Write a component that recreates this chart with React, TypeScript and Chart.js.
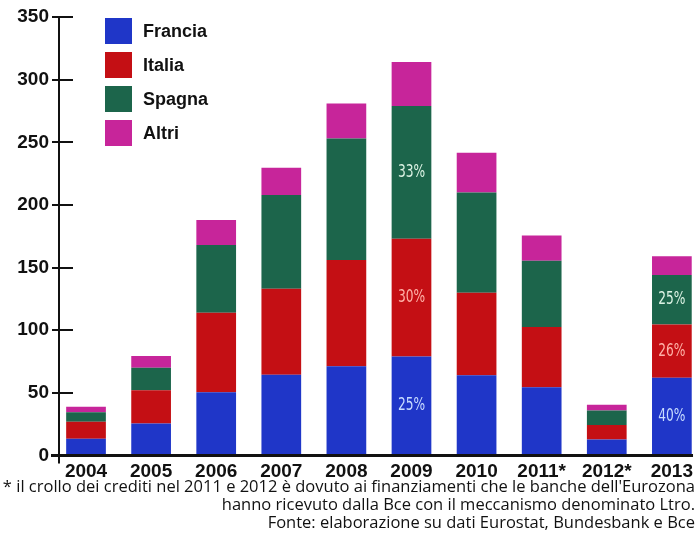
import React, { useEffect, useRef } from 'react';
import { Chart, registerables } from 'chart.js';

Chart.register(...registerables);

const years = ['2004', '2005', '2006', '2007', '2008', '2009', '2010', '2011*', '2012*', '2013'];
const francia = [13.3, 25.5, 50.5, 64.4, 71.3, 79, 64, 54.5, 12.8, 62];
const italia = [13.7, 26.5, 63.5, 68.6, 84.7, 94, 66, 48, 11.5, 42.5];
const spagna = [7.6, 18, 54, 75, 97, 106, 80, 53, 11.7, 39.5];
const altri = [4.4, 9.5, 20, 21.6, 28, 35, 31.6, 20, 4.5, 15];

const franciaPct = ['', '', '', '', '', '25%', '', '', '', '40%'];
const italiaPct = ['', '', '', '', '', '30%', '', '', '', '26%'];
const spagnaPct = ['', '', '', '', '', '33%', '', '', '', '25%'];
const altriPct = ['', '', '', '', '', '', '', '', '', ''];

const seriesNames = ['Francia', 'Italia', 'Spagna', 'Altri'];
const seriesColors = ['#1f36c8', '#c40f14', '#1c654b', '#c7259a'];
const pctColors = ['#c8dcff', '#ffb2a8', '#dcf3e4', '#ffffff'];

const yTicks = [0, 50, 100, 150, 200, 250, 300, 350];

const footerLines = [
  "* il crollo dei crediti nel 2011 e 2012 è dovuto ai finanziamenti che le banche dell'Eurozona",
  'hanno ricevuto dalla Bce con il meccanismo denominato Ltro.',
  'Fonte: elaborazione su dati Eurostat, Bundesbank e Bce',
];

const BOLD = '"Liberation Sans", Arial, sans-serif';
const THIN = '"DejaVu Sans Condensed", "DejaVu Sans", sans-serif';

const extrasPlugin = {
  id: 'extras',
  afterDatasetsDraw(chart: any) {
    const ctx = chart.ctx;
    const yScale = chart.scales.y;
    const area = chart.chartArea;
    ctx.save();
    ctx.strokeStyle = '#111';
    ctx.lineWidth = 2;
    yTicks.forEach((v) => {
      const y = Math.round(yScale.getPixelForValue(v));
      ctx.beginPath();
      ctx.moveTo(area.left, y);
      ctx.lineTo(area.left + 14, y);
      ctx.stroke();
    });
    ctx.beginPath();
    ctx.moveTo(area.left, area.bottom);
    ctx.lineTo(area.left, area.bottom + 8);
    ctx.stroke();
    ctx.lineWidth = 3;
    ctx.beginPath();
    ctx.moveTo(area.left - 8, area.bottom);
    ctx.lineTo(area.right, area.bottom);
    ctx.stroke();
    ctx.restore();

    const pcts = [franciaPct, italiaPct, spagnaPct, altriPct];
    chart.data.datasets.forEach((ds: any, di: number) => {
      const meta = chart.getDatasetMeta(di);
      meta.data.forEach((bar: any, i: number) => {
        const t = pcts[di][i];
        if (!t) return;
        ctx.save();
        ctx.font = '17px ' + THIN;
        ctx.textAlign = 'center';
        ctx.textBaseline = 'middle';
        ctx.fillStyle = pctColors[di];
        ctx.translate(bar.x, (bar.y + bar.base) / 2);
        ctx.scale(0.8, 1);
        ctx.fillText(t, 0, 0);
        ctx.restore();
      });
    });

    chart.data.datasets.forEach((ds: any, di: number) => {
      const top = 18 + di * 34;
      ctx.save();
      ctx.fillStyle = ds.backgroundColor;
      ctx.fillRect(105, top, 27, 26);
      ctx.font = 'bold 18px ' + BOLD;
      ctx.textAlign = 'left';
      ctx.textBaseline = 'middle';
      ctx.fillStyle = '#111';
      ctx.fillText(ds.label, 143, top + 14);
      ctx.restore();
    });
  },
};

export default function App() {
  const ref = useRef<HTMLCanvasElement>(null);

  useEffect(() => {
    const series = [francia, italia, spagna, altri];
    const chart = new Chart(ref.current as HTMLCanvasElement, {
      type: 'bar',
      data: {
        datasets: series.map((vals, si) => ({
          label: seriesNames[si],
          data: vals.map((v, i) => ({ x: i, y: v })),
          backgroundColor: seriesColors[si],
          borderWidth: 0,
          categoryPercentage: 1,
          barPercentage: 0.61,
        })),
      },
      options: {
        animation: false,
        responsive: false,
        maintainAspectRatio: false,
        layout: { padding: { top: 17, right: 0, bottom: 62.5, left: 0 } },
        plugins: {
          legend: { display: false },
          tooltip: { enabled: false },
        },
        scales: {
          x: {
            type: 'linear',
            stacked: true,
            offset: false,
            min: -0.415,
            max: 9.325,
            afterBuildTicks: (scale: any) => {
              scale.ticks = years.map((_, i) => ({ value: i }));
            },
            afterFit: (scale: any) => {
              scale.height = 30;
            },
            grid: { display: false, drawTicks: false, offset: false },
            border: { display: false },
            ticks: {
              autoSkip: false,
              maxRotation: 0,
              padding: 5,
              color: '#111',
              font: { family: BOLD, size: 19, weight: 'bold' },
              callback: (v: any) => years[Math.round(Number(v))] ?? '',
            },
          },
          y: {
            stacked: true,
            min: 0,
            max: 350,
            afterBuildTicks: (scale: any) => {
              scale.ticks = yTicks.map((v) => ({ value: v }));
            },
            afterFit: (scale: any) => {
              scale.width = 59;
            },
            grid: {
              drawOnChartArea: false,
              drawTicks: true,
              tickLength: 7,
              color: '#111',
              lineWidth: 2,
            },
            border: { display: true, color: '#111', width: 2 },
            ticks: {
              padding: 3,
              color: '#111',
              font: { family: BOLD, size: 19, weight: 'bold' },
            },
          },
        },
      },
      plugins: [extrasPlugin],
    } as any);
    return () => chart.destroy();
  }, []);

  return (
    <div style={{ position: 'fixed', left: 0, top: 0, width: 698, height: 548, background: '#fff', overflow: 'hidden' }}>
      <canvas ref={ref} width={698} height={548} style={{ position: 'absolute', left: 0, top: 0, width: 698, height: 548 }} />
      {footerLines.map((line, i) => (
        <div
          key={i}
          style={{
            position: 'absolute',
            right: 3,
            top: 477 + i * 18,
            fontFamily: '"Open Sans", "Noto Sans", sans-serif',
            fontSize: 16.5,
            lineHeight: '18px',
            color: '#111',
            whiteSpace: 'nowrap',
          }}
        >
          {line}
        </div>
      ))}
    </div>
  );
}
